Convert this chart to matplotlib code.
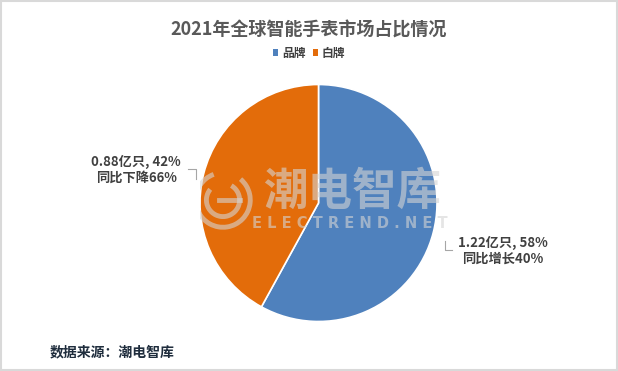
import matplotlib.pyplot as plt
from matplotlib.patches import Rectangle, Patch, Arc

plt.rcParams['font.family'] = ['Noto Sans CJK SC', 'DejaVu Sans']

# 数据
categories = ['品牌', '白牌']
shares = [58, 42]
volumes = ['1.22亿只', '0.88亿只']
yoy = ['同比增长40%', '同比下降66%']
colors = ['#4F81BD', '#E36C0A']

W, H = 618, 371
fig = plt.figure(figsize=(W / 100, H / 100), dpi=100)
fig.patch.set_facecolor('white')

# 饼图位置（像素）
cx, cy, r = 318.5, 203, 118.5
ax = fig.add_axes([(cx - r) / W, (H - cy - r) / H, 2 * r / W, 2 * r / H])
wedges, _ = ax.pie(shares, colors=colors, startangle=90, counterclock=False,
                   radius=1, wedgeprops=dict(edgecolor='white', linewidth=1.2))
ax.set_xlim(-1, 1)
ax.set_ylim(-1, 1)
ax.set_aspect('equal')
ax.axis('off')

# 水印
wm = dict(color='#D4D4D4', alpha=0.6, ha='center', va='center')
fig.text(352 / W, 1 - 192 / H, '潮电智库', fontsize=32, fontweight='bold', **wm)
fig.text(350 / W, 1 - 224 / H, 'E L E C T R E N D . N E T', fontsize=10.5,
         family='DejaVu Sans', fontweight='bold', **wm)
# 水印logo
lx, ly = (223 - cx) / r, (cy - 200) / r
for w, h, t1, t2, lw in [(0.46, 0.46, 110, 410, 3.5), (0.28, 0.28, 140, 420, 3.5)]:
    ax.add_patch(Arc((lx, ly), w, h, theta1=t1, theta2=t2, color='#D4D4D4',
                     alpha=0.6, lw=lw))
ax.plot([lx - 0.03, lx + 0.14], [ly, ly], color='#D4D4D4', alpha=0.6, lw=3.5)

# 数据标签
lbl = dict(fontsize=9.5, fontweight='bold', color='#404040', ha='center', va='center',
           linespacing=1.15)
fig.text(136 / W, 1 - 170 / H, f'{volumes[1]}, {shares[1]}%\n{yoy[1]}', **lbl)
fig.text(503 / W, 1 - 251 / H, f'{volumes[0]}, {shares[0]}%\n{yoy[0]}', **lbl)
# 引导线
fig.add_artist(plt.Line2D([188 / W, 196 / W, 196 / W], [1 - 169 / H, 1 - 169 / H, 1 - 179 / H],
                          color='#A6A6A6', lw=0.8))
fig.add_artist(plt.Line2D([445 / W, 445 / W, 452 / W], [1 - 241 / H, 1 - 250 / H, 1 - 250 / H],
                          color='#A6A6A6', lw=0.8))

# 标题与图例
fig.text(0.5, 1 - 30 / H, '2021年全球智能手表市场占比情况', fontsize=13,
         fontweight='bold', color='#595959', ha='center', va='center')
handles = [Patch(facecolor=c, edgecolor='none') for c in colors]
fig.legend(handles, categories, loc='center', bbox_to_anchor=(0.5, 1 - 53 / H), ncol=2,
           frameon=False, handlelength=0.5, handleheight=0.5, handletextpad=0.3,
           columnspacing=0.6, prop=dict(size=8.5, weight='bold'), labelcolor='#404040')

# 来源
fig.text(50 / W, 1 - 352 / H, '数据来源：潮电智库', fontsize=10, fontweight='bold',
         color='#1F2D3D', ha='left', va='center')

# 边框
fig.add_artist(Rectangle((0.001, 0.002), 0.997, 0.995, transform=fig.transFigure,
                         fill=False, edgecolor='#D9D9D9', lw=1.5))

fig.savefig('out.png', dpi=100)
